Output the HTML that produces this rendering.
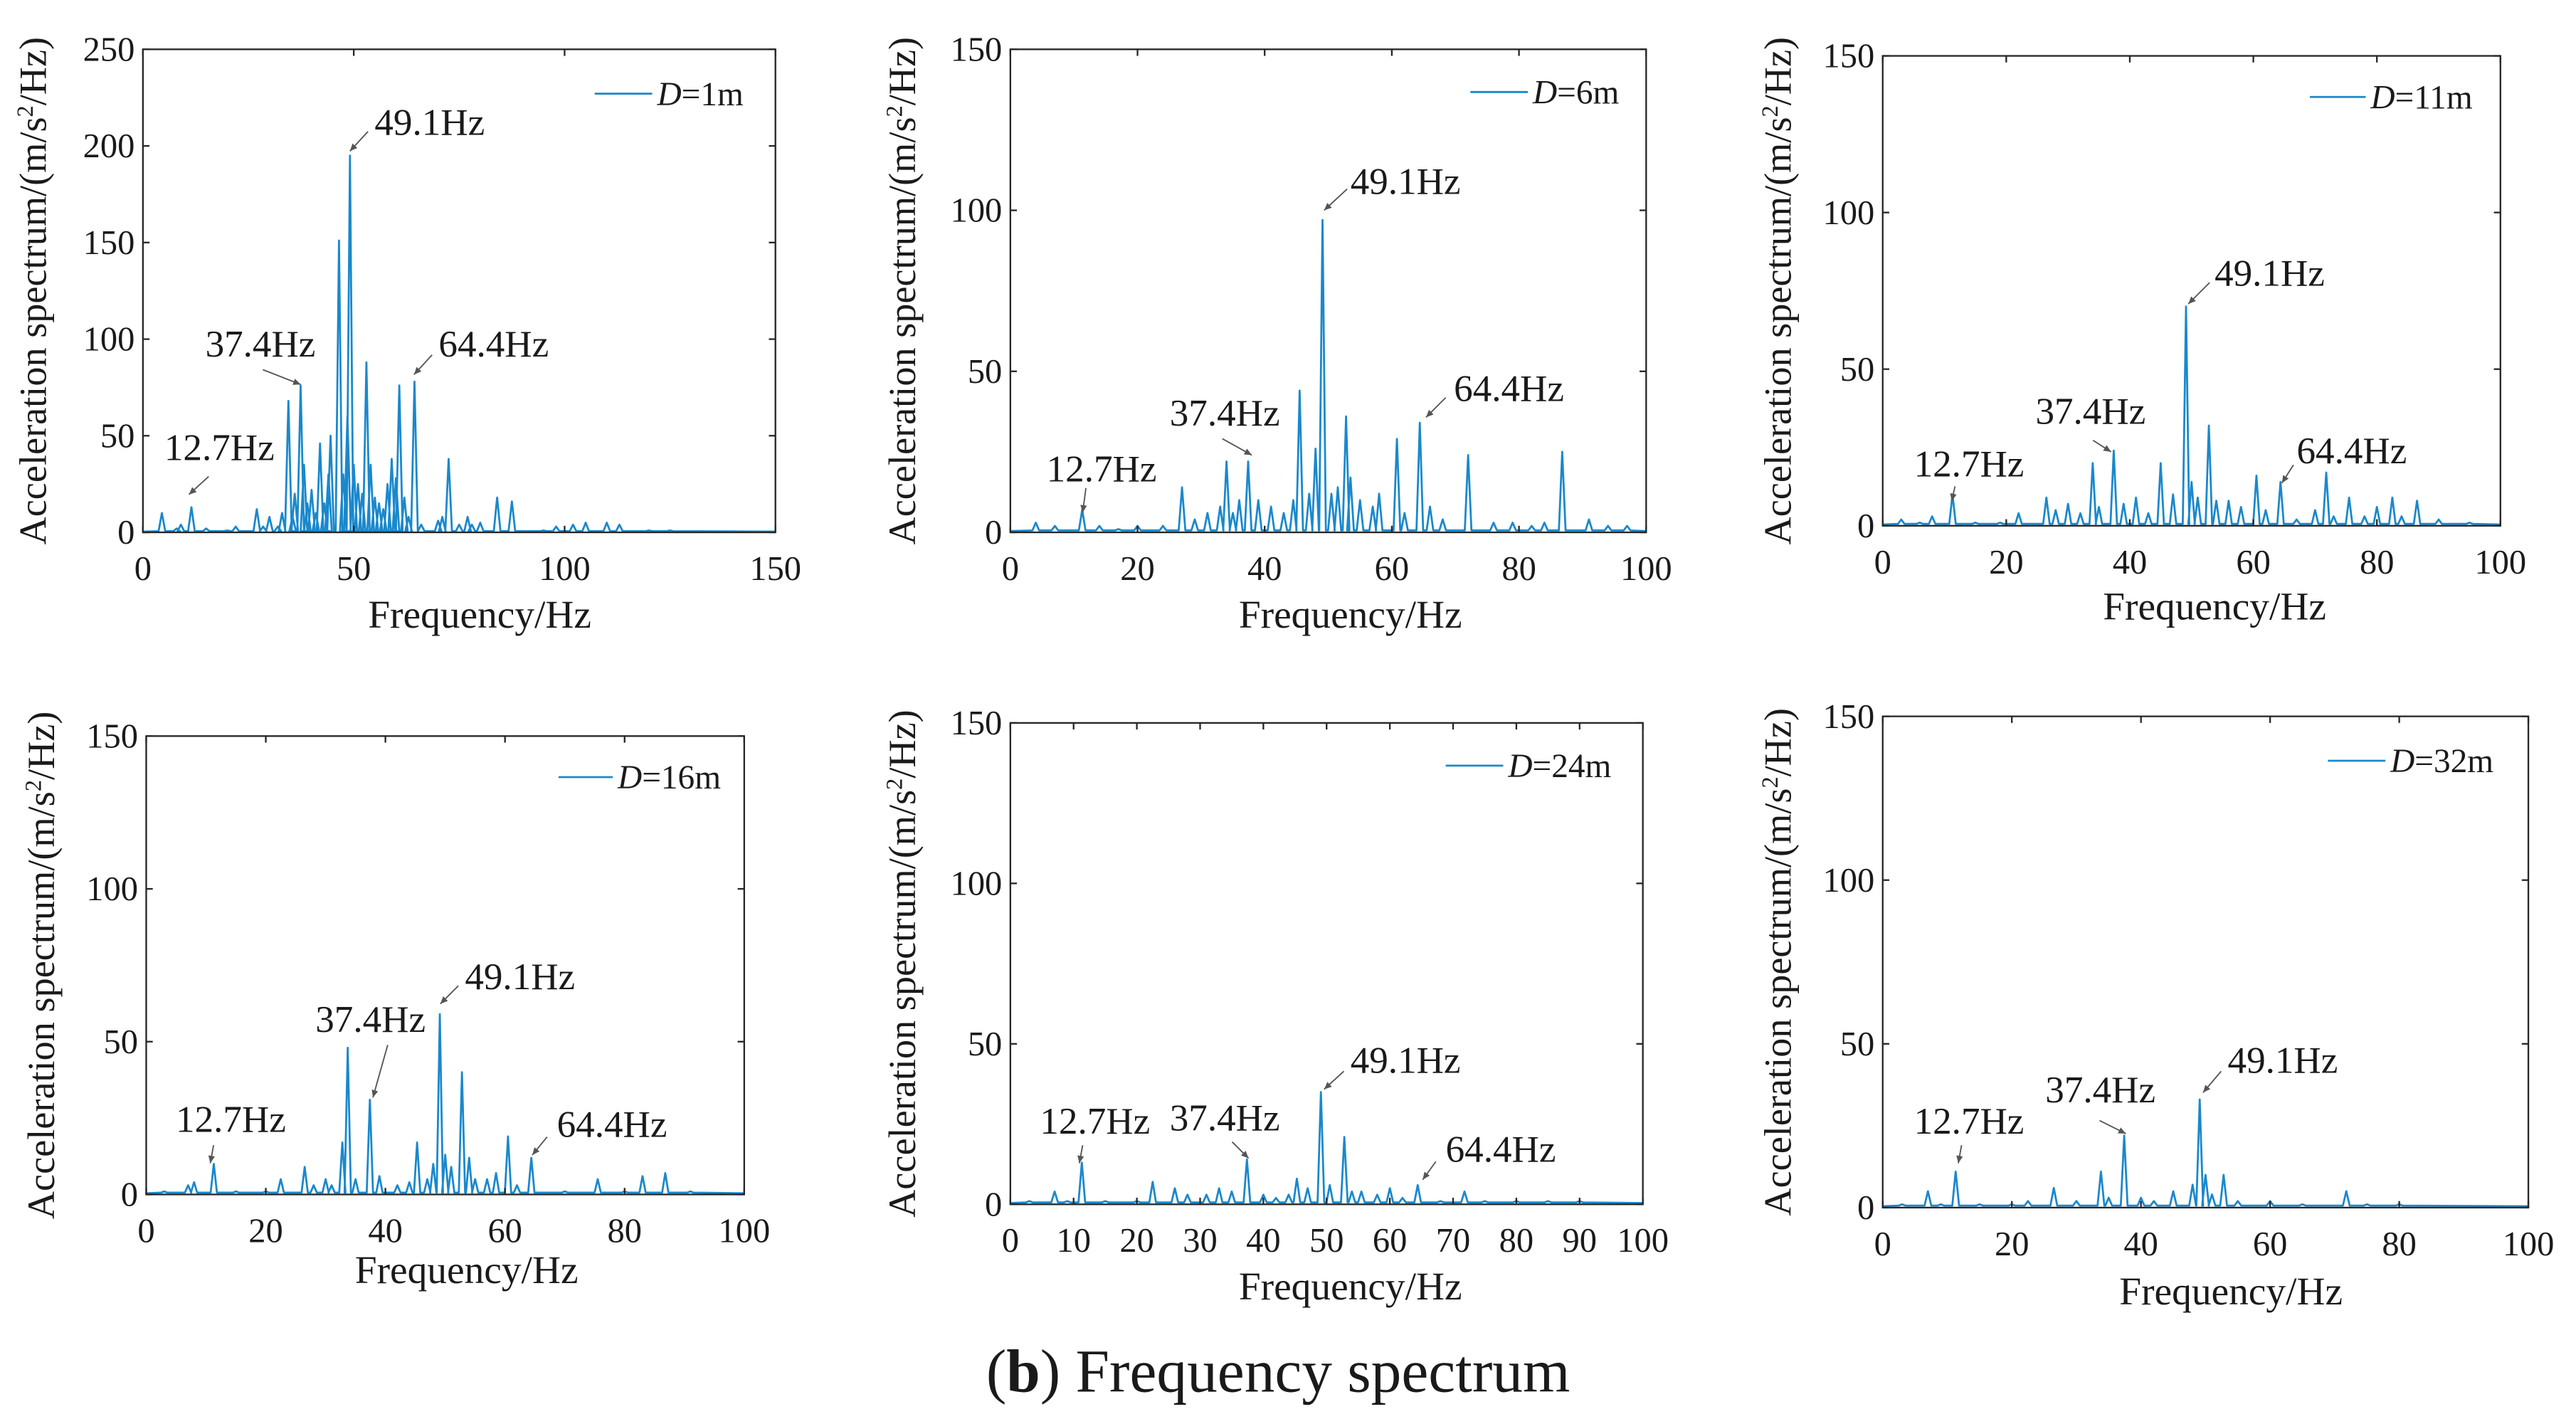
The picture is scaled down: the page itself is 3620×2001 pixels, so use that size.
<!DOCTYPE html>
<html><head><meta charset="utf-8"><style>
html,body{margin:0;padding:0;background:#fff;}
svg{display:block;}
text{font-family:"Liberation Serif","Times New Roman",serif;fill:#1a1a1a;}
</style></head>
<body>
<svg id="fig" xmlns="http://www.w3.org/2000/svg" width="3620" height="2001" viewBox="0 0 1568 866.7">
<rect x="0" y="0" width="1568" height="866.7" fill="#fff"/>
<text x="778" y="847" font-size="37" text-anchor="middle">(<tspan font-weight="bold">b</tspan>) Frequency spectrum</text>
</svg>
<script>
// ---------- data (peak frequency in Hz, amplitude in m/s^2/Hz) ----------
const p1Freq = [4.5,8,9,11.5,15,20,22,27,28.5,30,32,33,34.5,35.5,36,37.4,38.2,39,40,41,42,43,44,44.5,46.5,47.5,48.5,49.1,50,51,52,53,54,55,56,57,58,59,60,60.8,62,63,64.4,66,70,71,72.5,75,77,78,80,84,87.5,95,98,102,105,110,113,120,125];
const p1Amp  = [10,2,4,13,2,1,3,12,3,8,3,10,68,8,20,76,35,15,22,10,46,15,30,50,151,30,60,195,35,25,20,88,35,18,15,12,25,38,28,76,18,8,78,4,6,8,38,4,8,4,5,18,16,1,3,4,5,5,4,1,1];
const p2Freq = [4,7,11.3,14,17,20,24,27,29,31,33,34,35,36,37.4,39,41,43,44.5,45.5,47,48,49.1,50.5,51.5,52.8,53.5,55,57,58,60.8,62,64.4,66,68,72,76,79,82,84,86.8,91,94,97];
const p2Amp  = [3,2,7,2,1,2,2,14,4,6,8,22,6,10,22,10,8,6,10,44,12,26,97,12,14,36,17,10,8,12,29,6,34,8,4,24,3,3,2,3,25,4,2,2];
const p3Freq = [3,6,8,11.3,15,19,22,26.5,28,30,32,34,35,37.4,39,41,43,45,47,49.1,50,51,52.8,54,56,58,60.5,62,64.4,67,70,71.8,73,75.5,78,80,82.5,84,86.5,90,95];
const p3Amp  = [2,1,3,10,1,1,4,9,5,7,4,20,6,24,7,9,4,20,10,70,14,9,32,8,8,6,16,5,14,2,5,17,3,9,3,6,9,3,8,2,1];
const p4Freq = [3,7,8,11.3,15,20,22.5,26.5,28,30,31,32.8,33.7,35,37.4,39,42,44,45.3,47,48,49.1,50,51,52.8,54,55,57,58.5,60.5,62,64.4,70,75.5,80,83,86.8,91];
const p4Amp  = [1,3,4,10,1,1,5,9,3,5,3,17,48,5,31,6,3,4,17,5,10,59,13,9,40,12,5,5,7,19,3,12,1,5,1,6,7,1];
const p5Freq = [3,7,9,11.3,15,20,22.5,26,28,31,33,35,37.4,40,42,44,45.3,47,49.1,50.5,52.8,54,55.5,58,60,62,64.4,68,71.8,75,80,85,90];
const p5Amp  = [1,4,1,13,1,1,7,5,3,3,5,4,14,3,2,3,8,5,35,6,21,4,4,3,5,2,6,1,4,1,1,1,1];
const p6Freq = [3,7,9,11.3,15,20,22.5,26.5,30,33.8,35,37.4,40,42,45,48,49.1,50,51,52.8,55,60,65,71.8,75,80];
const p6Amp  = [1,5,1,11,1,1,2,6,2,11,3,22,3,2,5,7,33,10,4,10,2,2,1,5,1,1];
const yTicks250 = [0,50,100,150,200,250];
const yTicks150 = [0,50,100,150];
const xTicks150 = [0,50,100,150];
const xTicks100 = [0,20,40,60,80,100];
const xTicks100b = [0,10,20,30,40,50,60,70,80,90,100];
const legendLabels = ["1m","6m","11m","16m","24m","32m"];

// ---------- layout ----------
const panels = [
 {id:"d1", L:87,R:472,T:30,B:324,xmax:150,ymax:250,xt:xTicks150,yt:yTicks250,fr:p1Freq,am:p1Amp,lg:[362,397,57],ytx:28,xtc:[292,382],
  ann:[["49.1Hz",228,82,224,80,213,92],["37.4Hz",125,217,160,225,183,234],["64.4Hz",267,217,263,216,252,228],["12.7Hz",100,280,127,290,115,301]]},
 {id:"d6", L:615,R:1002,T:30,B:324,xmax:100,ymax:150,xt:xTicks100,yt:yTicks150,fr:p2Freq,am:p2Amp,lg:[895,930,56],ytx:557,xtc:[822,382],
  ann:[["49.1Hz",822,118,820,115,806,128],["37.4Hz",712,259,744,267,762,277],["64.4Hz",885,244,880,242,868,254],["12.7Hz",637,293,661,297,659,312]]},
 {id:"d11", L:1146,R:1522,T:34,B:320,xmax:100,ymax:150,xt:xTicks100,yt:yTicks150,fr:p3Freq,am:p3Amp,lg:[1406,1440,59],ytx:1090,xtc:[1348,377],
  ann:[["49.1Hz",1348,174,1345,172,1332,185],["37.4Hz",1239,258,1274,268,1285,275],["64.4Hz",1398,282,1396,283,1389,294],["12.7Hz",1165,290,1190,296,1188,305]]},
 {id:"d16", L:89,R:453,T:448,B:727,xmax:100,ymax:150,xt:xTicks100,yt:yTicks150,fr:p4Freq,am:p4Amp,lg:[340,373,473],ytx:33,xtc:[284,781],
  ann:[["49.1Hz",283,602,279,600,268,611],["37.4Hz",192,628,236,636,227,668],["64.4Hz",339,692,333,692,324,703],["12.7Hz",107,689,130,697,128,708]]},
 {id:"d24", L:615,R:1000,T:440,B:733,xmax:100,ymax:150,xt:xTicks100b,yt:yTicks150,fr:p5Freq,am:p5Amp,lg:[880,915,466],ytx:557,xtc:[822,791],
  ann:[["49.1Hz",822,653,818,652,806,663],["37.4Hz",712,688,750,695,760,705],["64.4Hz",880,707,874,707,866,718],["12.7Hz",633,690,659,697,657,708]]},
 {id:"d32", L:1146,R:1539,T:436,B:735,xmax:100,ymax:150,xt:xTicks100,yt:yTicks150,fr:p6Freq,am:p6Amp,lg:[1417,1452,463],ytx:1090,xtc:[1358,794],
  ann:[["49.1Hz",1356,653,1352,652,1341,665],["37.4Hz",1245,671,1278,682,1294,690],["12.7Hz",1165,690,1194,697,1192,708]]}
];
const NS="http://www.w3.org/2000/svg";
const svg=document.getElementById("fig");
function mk(tag,attrs,parent){const e=document.createElementNS(NS,tag);for(const k in attrs)e.setAttribute(k,attrs[k]);(parent||svg).appendChild(e);return e;}

panels.forEach((p,pi)=>{
  const g=mk("g",{});
  
  
  const sx=f=>p.L+(f/p.xmax)*(p.R-p.L);
  const sy=v=>p.B-(v/p.ymax)*(p.B-p.T);
  const hw=p.xmax*0.0035;
  let pts=[[sx(0),sy(0.4)]];
  p.fr.forEach((f,i)=>{
    pts.push([sx(f-hw*1.5),sy(0.6)]);
    pts.push([sx(f),sy(p.am[i])]);
    pts.push([sx(f+hw*1.5),sy(0.6)]);
  });
  pts.push([sx(p.xmax),sy(0.4)]);
  const line=mk("polyline",{points:pts.map(q=>q[0].toFixed(2)+","+q[1].toFixed(2)).join(" "),fill:"none",stroke:"#1a88cc","stroke-width":"1.2","stroke-linejoin":"round"},g);
  
  
  const box=mk("rect",{x:p.L,y:p.T,width:p.R-p.L,height:p.B-p.T,fill:"none",stroke:"#262626","stroke-width":"1"},g);
  
  
  p.xt.forEach(t=>{
    const x=sx(t);
    mk("line",{x1:x,y1:p.B,x2:x,y2:p.B-4,stroke:"#262626","stroke-width":"1"},g);
    mk("line",{x1:x,y1:p.T,x2:x,y2:p.T+4,stroke:"#262626","stroke-width":"1"},g);
    const tx=mk("text",{x:x,y:p.B+29,"font-size":"21","text-anchor":"middle"},g);
    tx.textContent=t;
    
    
  });
  p.yt.forEach(t=>{
    const y=sy(t);
    mk("line",{x1:p.L,y1:y,x2:p.L+4,y2:y,stroke:"#262626","stroke-width":"1"},g);
    mk("line",{x1:p.R,y1:y,x2:p.R-4,y2:y,stroke:"#262626","stroke-width":"1"},g);
    const ty=mk("text",{x:p.L-5,y:y+7,"font-size":"21","text-anchor":"end"},g);
    ty.textContent=t;
    
    
  });
  const xt=mk("text",{x:p.xtc[0],y:p.xtc[1],"font-size":"24","text-anchor":"middle"},g);
  xt.textContent="Frequency/Hz";
  
  
  const cy=(p.T+p.B)/2;
  const yt=mk("text",{x:p.ytx,y:cy,"font-size":"23.5","text-anchor":"middle",transform:"rotate(-90 "+p.ytx+" "+cy+")"},g);
  yt.innerHTML='Acceleration spectrum/(m/s<tspan dy="-8" font-size="14">2</tspan><tspan dy="8">/Hz)</tspan>';
  
  
  const lg=mk("g",{},g);
  
  
  mk("line",{x1:p.lg[0],y1:p.lg[2],x2:p.lg[1],y2:p.lg[2],stroke:"#1a88cc","stroke-width":"1.2"},lg);
  const lt=mk("text",{x:p.lg[1]+3,y:p.lg[2]+7,"font-size":"20.5"},lg);
  lt.innerHTML='<tspan font-style="italic">D</tspan>='+legendLabels[pi];
  p.ann.forEach(a=>{
    const ag=mk("g",{},g);
    
    
    const at=mk("text",{x:a[1],y:a[2],"font-size":"23"},ag);
    at.textContent=a[0];
    mk("line",{x1:a[3],y1:a[4],x2:a[5],y2:a[6],stroke:"#555","stroke-width":"0.8"},ag);
    const ang=Math.atan2(a[6]-a[4],a[5]-a[3]);
    const h=4.5,w=2;
    const bx=a[5]-h*Math.cos(ang),by=a[6]-h*Math.sin(ang);
    mk("polygon",{points:[a[5],a[6],bx+w*Math.sin(ang),by-w*Math.cos(ang),bx-w*Math.sin(ang),by+w*Math.cos(ang)].join(","),fill:"#555"},ag);
  });
});
</script>
</body></html>
